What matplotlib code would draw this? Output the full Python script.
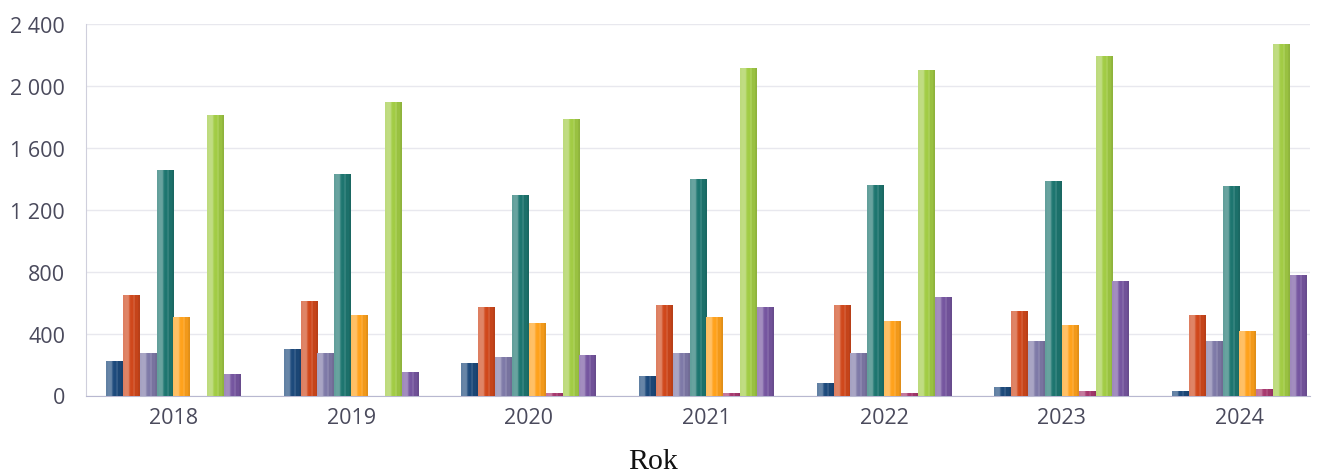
import matplotlib
matplotlib.use("Agg")
import matplotlib.pyplot as plt
import numpy as np
from matplotlib.ticker import FuncFormatter, MultipleLocator
from matplotlib.colors import to_rgb

years = ["2018", "2019", "2020", "2021", "2022", "2023", "2024"]
s1 = [220, 300, 209, 127, 81, 52, 26]          # dark blue
s2 = [647, 612, 569, 586, 586, 543, 519]       # red-orange
s3 = [274, 274, 246, 274, 274, 349, 349]       # grey-purple
s4 = [1455, 1430, 1296, 1399, 1362, 1386, 1352]  # teal
s5 = [506, 519, 466, 508, 481, 453, 416]       # orange
s6 = [0, 0, 13, 13, 13, 26, 39]                # magenta
s7 = [1815, 1893, 1789, 2113, 2100, 2193, 2270]  # green
s8 = [142, 153, 259, 569, 634, 739, 776]       # purple
series = [s1, s2, s3, s4, s5, s6, s7, s8]
colors = ["#1d4a7c", "#d0481c", "#7f7aa8", "#1e7670", "#ffa21c", "#a8396f", "#a2cc45", "#7656a0"]

fig = plt.figure(figsize=(13.23, 4.77), dpi=100)
ax = fig.add_axes([86/1323, 1-396.5/477, (1310-86)/1323, (396.5-25)/477])

n = len(series)
group_w = 0.76
bw = group_w / n
x = np.arange(len(years))

prof_x = np.linspace(0, 1, 40)
def shade(t):
    if t < 0.08:
        return 0.30
    if t < 0.35:
        return 0.33
    if t < 0.42:
        return 0.12
    if t < 0.62:
        return 0.0
    if t < 0.68:
        return 0.22
    if t < 0.9:
        return -0.05
    return -0.12
prof = np.array([shade(t) for t in prof_x])

for i, (vals, c) in enumerate(zip(series, colors)):
    bars = ax.bar(x - group_w/2 + bw*(i+0.5), vals, width=bw, color=c, zorder=3, linewidth=0)
    base = np.array(to_rgb(c))
    img = np.zeros((1, len(prof), 3))
    for k, p in enumerate(prof):
        if p >= 0:
            img[0, k] = base + (1-base)*p
        else:
            img[0, k] = base*(1+p)
    for b in bars:
        h = b.get_height()
        if h <= 0:
            continue
        im = ax.imshow(img, extent=[b.get_x(), b.get_x()+b.get_width(), 0, h],
                       aspect="auto", zorder=4, interpolation="bilinear")
        im.set_clip_path(b)

ax.set_xlim(-0.4925, 6.397)
ax.set_ylim(0, 2400)
ax.yaxis.set_major_locator(MultipleLocator(400))
ax.yaxis.set_major_formatter(FuncFormatter(lambda v, p: f"{int(v):,}".replace(",", " ")))
ax.set_xticks(x)
ax.set_xticklabels(years)
ax.grid(axis="y", color="#e8e8ee", linewidth=1, zorder=0)
ax.set_axisbelow(True)
for sp in ["top", "right"]:
    ax.spines[sp].set_visible(False)
ax.spines["left"].set_color("#cfcfdc")
ax.spines["bottom"].set_color("#b8b8d0")
ax.tick_params(axis="both", length=0, labelsize=15.5, labelcolor="#4a4a5c")
ax.tick_params(axis="x", pad=8)
ax.tick_params(axis="y", pad=15)
for lab in ax.get_xticklabels() + ax.get_yticklabels():
    lab.set_family("Open Sans")

fig.text(653/1323, 1-462/477, "Rok", ha="center", va="center", family="Liberation Serif", fontsize=21.5, color="#111111")

fig.savefig("out.png", dpi=100)
